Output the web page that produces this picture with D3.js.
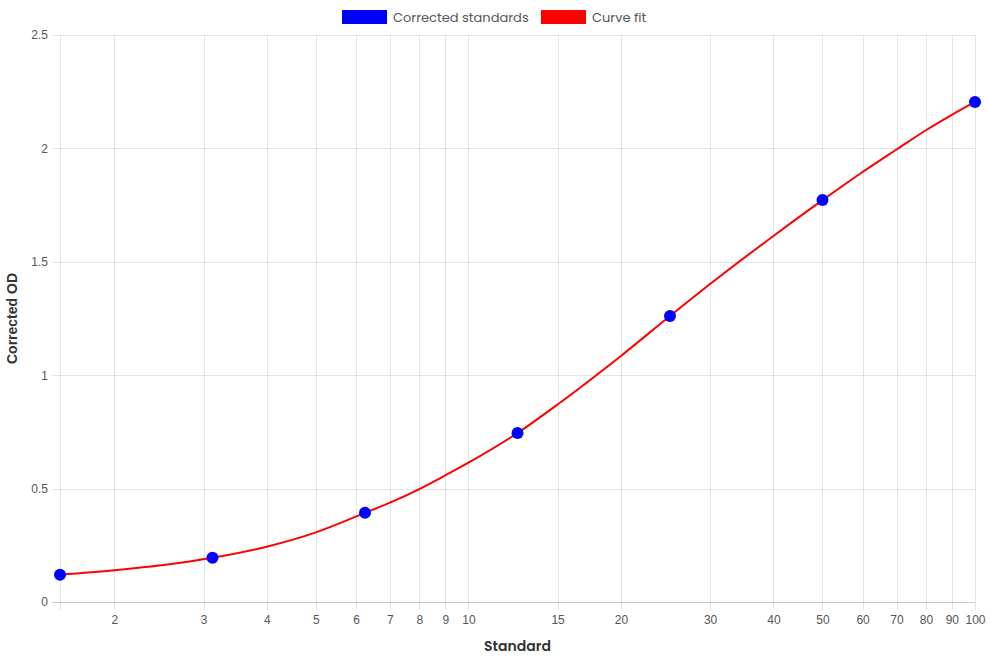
<!DOCTYPE html>
<html>
<head>
<meta charset="UTF-8">
<script src="https://d3js.org/d3.v7.min.js"></script>
<style>
  body { margin: 0; background: #fff; }
  .tick text { font-family: 'Liberation Sans', Arial, sans-serif; font-size: 12px; fill: #555; }
  .lbl { font-family: 'Poppins', 'Open Sans', sans-serif; }
</style>
</head>
<body>
<svg id="chart" width="990" height="660"></svg>
<script>
// standards (x) and corrected OD (y)
var standards = [1.5625, 3.125, 6.25, 12.5, 25, 50, 100];
var correctedOD = [0.12, 0.195, 0.393, 0.745, 1.261, 1.772, 2.205];

// curve fit
var fitX = [1.5625, 2, 2.5, 3.125, 4, 5, 6.25, 7, 8, 9, 10, 12.5, 15, 20, 25, 30, 40, 50, 60, 70, 80, 90, 100];
var fitY = [0.12, 0.14, 0.163, 0.195, 0.244, 0.307, 0.393, 0.438, 0.498, 0.558, 0.614, 0.745, 0.871, 1.085, 1.261, 1.402, 1.614, 1.772, 1.896, 1.995, 2.08, 2.148, 2.205];

var xTicks = [2, 3, 4, 5, 6, 7, 8, 9, 10, 15, 20, 30, 40, 50, 60, 70, 80, 90, 100];
var yTicks = [0, 0.5, 1, 1.5, 2, 2.5];

var plotLeft = 60, plotRight = 975, plotTop = 35, plotBottom = 602;

var svg = d3.select("#chart");

var x = d3.scaleLog().domain([1.5625, 100]).range([plotLeft, plotRight]);
var y = d3.scaleLinear().domain([0, 2.5]).range([plotBottom, plotTop]);

var gridColor = "rgba(0,0,0,0.1)";

// grid
var grid = svg.append("g");
grid.selectAll(".vg").data(xTicks).enter().append("line")
    .attr("x1", function (d) { return Math.round(x(d)) + 0.5; })
    .attr("x2", function (d) { return Math.round(x(d)) + 0.5; })
    .attr("y1", plotTop).attr("y2", plotBottom + 8)
    .attr("stroke", gridColor);
grid.append("line")
    .attr("x1", plotLeft + 0.5).attr("x2", plotLeft + 0.5)
    .attr("y1", plotTop).attr("y2", plotBottom + 8)
    .attr("stroke", gridColor);
grid.selectAll(".hg").data(yTicks).enter().append("line")
    .attr("x1", plotLeft - 8).attr("x2", plotRight)
    .attr("y1", function (d) { return Math.round(y(d)) + 0.5; })
    .attr("y2", function (d) { return Math.round(y(d)) + 0.5; })
    .attr("stroke", function (d) { return d === 0 ? "rgba(0,0,0,0.2)" : gridColor; });

// axes (labels only)
var xAxis = svg.append("g")
    .attr("transform", "translate(0," + plotBottom + ")")
    .call(d3.axisBottom(x).tickValues(xTicks).tickFormat(d3.format("d")).tickSize(0).tickPadding(13));
xAxis.select(".domain").remove();

var yAxis = svg.append("g")
    .attr("transform", "translate(" + plotLeft + ",0)")
    .call(d3.axisLeft(y).tickValues(yTicks).tickFormat(function (d) { return d; }).tickSize(0).tickPadding(12));
yAxis.select(".domain").remove();

// axis titles
svg.append("text").attr("class", "lbl")
    .attr("x", (plotLeft + plotRight) / 2).attr("y", 651)
    .attr("text-anchor", "middle")
    .style("font-size", "14px").style("font-weight", "600").style("fill", "#333")
    .text("Standard");
svg.append("text")
    .attr("transform", "translate(17," + ((plotTop + plotBottom) / 2) + ") rotate(-90)")
    .attr("text-anchor", "middle")
    .style("font-family", "'Liberation Sans', Arial, sans-serif")
    .style("font-size", "14px").style("font-weight", "bold").style("fill", "#333")
    .text("Corrected OD");

// curve fit
var fitData = fitX.map(function (d, i) { return [d, fitY[i]]; });
var line = d3.line()
    .x(function (d) { return x(d[0]); })
    .y(function (d) { return y(d[1]); })
    .curve(d3.curveMonotoneX);
svg.append("path")
    .datum(fitData)
    .attr("d", line)
    .attr("fill", "none")
    .attr("stroke", "#ff0000")
    .attr("stroke-width", 2);

// standards
svg.selectAll(".pt").data(standards).enter().append("circle")
    .attr("cx", function (d) { return x(d); })
    .attr("cy", function (d, i) { return y(correctedOD[i]); })
    .attr("r", 6)
    .attr("fill", "#0000ff");

// legend
var legend = [
    { label: "Corrected standards", color: "#0000ff", x: 342 },
    { label: "Curve fit", color: "#ff0000", x: 541 }
];
var lg = svg.selectAll(".lg").data(legend).enter().append("g");
lg.append("rect")
    .attr("x", function (d) { return d.x; }).attr("y", 10)
    .attr("width", 45).attr("height", 14)
    .attr("fill", function (d) { return d.color; });
lg.append("text").attr("class", "lbl")
    .attr("x", function (d) { return d.x + 51; }).attr("y", 21.5)
    .style("font-size", "13px").style("fill", "#555")
    .text(function (d) { return d.label; });
</script>
</body>
</html>
